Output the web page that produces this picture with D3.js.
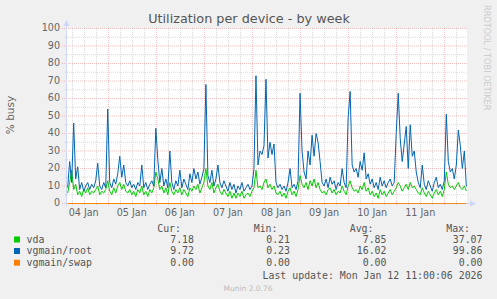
<!DOCTYPE html>
<html><head><meta charset="utf-8">
<script src="https://cdn.jsdelivr.net/npm/d3@7"></script>
<style>
html,body{margin:0;padding:0;background:#F0F0F0;}
svg{display:block;}
text{font-family:"DejaVu Sans",sans-serif;}
.mono{font-family:"DejaVu Sans Mono",monospace;}
</style></head>
<body>
<script>
// ---- data ----
const title = "Utilization per device - by week";
const yLabel = "% busy";
const seriesNames = ["vda", "vgmain/root", "vgmain/swap"];
const seriesColors = ["#00CC00", "#0066B3", "#FF8000"];
const startTime = Date.UTC(2026, 0, 4, 4, 0, 0); // first sample
const stepHours = 1;
const domainStart = Date.UTC(2026, 0, 4, 3, 40);
const domainEnd = Date.UTC(2026, 0, 12, 11, 20);
const dayTicks = ["04 Jan","05 Jan","06 Jan","07 Jan","08 Jan","09 Jan","10 Jan","11 Jan"];
const yTicks = [0,10,20,30,40,50,60,70,80,90,100];

const vda = [6,12,19,8,11,5,7,4,8,6,9,5,7,6,8,10,5,7,6,8,
13,7,5,9,6,10,12,8,11,7,6,8,5,7,4,8,6,10,5,7,
4,8,6,9,18,14,8,10,6,9,5,12,7,5,8,6,9,5,8,6,
4,9,7,10,8,11,6,9,12,20,10,8,12,6,9,11,7,5,8,6,
4,7,3,6,3,6,4,7,3,5,6,4,7,9,19,9,10,8,12,14,
9,11,8,10,6,5,7,4,6,3,7,9,5,7,4,8,16,11,9,12,
8,13,10,14,9,12,8,6,7,5,8,9,6,8,5,7,6,10,7,5,
10,13,9,7,8,6,10,8,12,7,9,5,7,4,6,3,8,5,7,4,
6,8,5,7,9,12,10,7,9,11,8,12,9,10,8,6,5,9,6,4,
7,5,3,6,8,5,7,4,8,18,11,9,10,8,10,12,9,8,10,7.18];

const root = [9,24,12,46,14,21,8,12,7,10,12,8,11,9,13,23,10,8,12,9,
54,12,9,14,11,17,27,15,22,12,10,13,9,11,8,12,10,22,9,12,
8,11,13,10,43,25,12,20,10,14,9,30,12,8,13,10,19,9,14,11,
8,17,12,20,14,18,11,15,20,68,16,12,19,10,14,22,12,9,13,10,
7,12,8,11,6,10,8,12,7,9,11,8,10,20,73,22,30,28,33,71,
26,35,28,34,12,9,11,8,10,7,12,20,9,11,8,13,63,30,18,14,
30,22,39,27,40,35,24,12,10,14,9,15,11,13,8,12,10,20,12,9,
49,64,22,18,20,15,24,19,29,14,17,11,14,9,12,8,15,10,13,9,
12,14,10,12,40,63,37,24,34,44,20,45,27,30,18,12,9,22,11,8,
13,10,7,12,15,9,11,8,13,51,24,18,20,14,22,42,33,20,30,9.72];

const swap = [0,0,0,0,0,0,0,0,0,0,0,0,0,0,0,0,0,0,0,0,
0,0,0,0,0,0,0,0,0,0,0,0,0,0,0,0,0,0,0,0,
0,0,0,0,0,0,0,0,0,0,0,0,0,0,0,0,0,0,0,0,
0,0,0,0,0,0,0,0,0,0,0,0,0,0,0,0,0,0,0,0,
0,0,0,0,0,0,0,0,0,0,0,0,0,0,0,0,0,0,0,0,
0,0,0,0,0,0,0,0,0,0,0,0,0,0,0,0,0,0,0,0,
0,0,0,0,0,0,0,0,0,0,0,0,0,0,0,0,0,0,0,0,
0,0,0,0,0,0,0,0,0,0,0,0,0,0,0,0,0,0,0,0,
0,0,0,0,0,0,0,0,0,0,0,0,0,0,0,0,0,0,0,0,
0,0,0,0,0,0,0,0,0,0,0,0,0,0,0,0,0,0,0,0];

const statCur = ["7.18","9.72","0.00"];
const statMin = ["0.21","0.23","0.00"];
const statAvg = ["7.85","16.02","0.00"];
const statMax = ["37.07","99.86","0.00"];
const lastUpdate = "Last update: Mon Jan 12 11:00:06 2026";
const footer = "Munin 2.0.76";
const sideText = "RRDTOOL / TOBI OETIKER";

// ---- drawing ----
const W = 497, H = 299;
const L = 67, R = 467, T = 28, B = 203;
const svg = d3.select("body").append("svg").attr("width", W).attr("height", H);
svg.append("rect").attr("width", W).attr("height", H).attr("fill", "#F0F0F0");

const x = d3.scaleUtc().domain([domainStart, domainEnd]).range([L, R]);
const y = d3.scaleLinear().domain([0, 100]).range([B, T]);

svg.append("rect").attr("x", L).attr("y", T).attr("width", R - L).attr("height", B - T).attr("fill", "#fff");

const minorCol = "rgba(160,160,160,0.4)";
const majorCol = "rgba(235,90,90,0.38)";
const g = svg.append("g");

// horizontal grid
d3.range(0, 101, 5).forEach(v => {
  const major = v % 10 === 0;
  g.append("line").attr("x1", major ? L - 5 : L - 2).attr("x2", R)
   .attr("y1", y(v) + 0.5).attr("y2", y(v) + 0.5)
   .attr("stroke", major ? majorCol : minorCol).attr("stroke-dasharray", "1,1").attr("stroke-width", 1);
});
// vertical grid
const sixH = d3.utcHour.every(6).range(new Date(domainStart), new Date(domainEnd));
sixH.forEach(t => {
  const major = t.getUTCHours() === 0;
  const xx = Math.round(x(t)) + 0.5;
  g.append("line").attr("x1", xx).attr("x2", xx).attr("y1", T).attr("y2", major ? B + 3 : B + 2)
   .attr("stroke", major ? majorCol : minorCol).attr("stroke-dasharray", "1,1");
});

// axes lines & arrows
const axCol = "#CFD6F8";
svg.append("line").attr("x1", L - 0.5).attr("x2", L - 0.5).attr("y1", B + 3).attr("y2", T - 5).attr("stroke", axCol);
svg.append("line").attr("x1", L - 3).attr("x2", R + 5).attr("y1", B + 0.5).attr("y2", B + 0.5).attr("stroke", axCol);
svg.append("path").attr("d", `M${L-3.5},${T-2} L${L+2.5},${T-2} L${L-0.5},${T-8} Z`).attr("fill", axCol);
svg.append("path").attr("d", `M${R+3},${B-2.5} L${R+3},${B+3.5} L${R+9},${B+0.5} Z`).attr("fill", axCol);

// y tick labels
yTicks.forEach(v => {
  svg.append("text").attr("x", 60).attr("y", y(v)).attr("dy", "0.35em").attr("text-anchor", "end")
    .attr("font-size", 9.6).attr("fill", "#666").text(v);
});
// x tick labels
dayTicks.forEach((lab, i) => {
  const t = Date.UTC(2026, 0, 4 + i, 12);
  svg.append("text").attr("x", x(t)).attr("y", 213).attr("dy", "0.35em").attr("text-anchor", "middle")
    .attr("font-size", 9.6).attr("fill", "#666").text(lab);
});

// series
const timeOf = i => startTime + i * stepHours * 3600e3;
const line = d3.line().x((d, i) => x(timeOf(i))).y(d => y(d) + 0.5);
const plot = svg.append("g");
[vda, root, swap].forEach((arr, k) => {
  plot.append("path").datum(arr).attr("d", line).attr("fill", "none")
    .attr("stroke", seriesColors[k]).attr("stroke-width", 1).attr("stroke-linejoin", "round");
});

// title
svg.append("text").attr("x", 249).attr("y", 19).attr("dy", "0.35em").attr("text-anchor", "middle")
  .attr("font-size", 12.8).attr("fill", "#555").text(title);
// y label
svg.append("text").attr("transform", "translate(10,115) rotate(-90)").attr("dy", "0.35em")
  .attr("text-anchor", "middle").attr("font-size", 10.5).attr("fill", "#666").text(yLabel);
// side text
svg.append("text").attr("transform", "translate(487,5) rotate(90)").attr("dy", "0.35em")
  .attr("text-anchor", "start").attr("font-size", 8.2).attr("fill", "#ccc").text(sideText);

// legend
const fs = 9.9;
const hdrY = 228.5;
[["Cur:",181],["Min:",277.5],["Avg:",373.5],["Max:",470]].forEach(([t, xx]) => {
  svg.append("text").attr("class","mono").attr("x", xx).attr("y", hdrY).attr("dy","0.35em")
    .attr("text-anchor","end").attr("font-size", fs).attr("fill","#555").text(t);
});
const rowYs = [239.5, 251, 262.7];
seriesNames.forEach((n, k) => {
  const ry = rowYs[k];
  svg.append("rect").attr("x", 14).attr("y", ry - 3).attr("width", 6).attr("height", 6).attr("fill", seriesColors[k]);
  svg.append("text").attr("class","mono").attr("x", 26.5).attr("y", ry).attr("dy","0.35em")
    .attr("font-size", fs).attr("fill","#555").text(n);
  [[statCur,194],[statMin,290],[statAvg,386.5],[statMax,482.5]].forEach(([arr, xx]) => {
    svg.append("text").attr("class","mono").attr("x", xx).attr("y", ry).attr("dy","0.35em")
      .attr("text-anchor","end").attr("font-size", fs).attr("fill","#555").text(arr[k]);
  });
});
svg.append("text").attr("class","mono").attr("x", 482.5).attr("y", 276).attr("dy","0.35em")
  .attr("text-anchor","end").attr("font-size", fs).attr("fill","#555").text(lastUpdate);
svg.append("text").attr("x", 248).attr("y", 288).attr("dy","0.35em")
  .attr("text-anchor","middle").attr("font-size", 7.5).attr("fill","#bbb").text(footer);
</script>
</body></html>
